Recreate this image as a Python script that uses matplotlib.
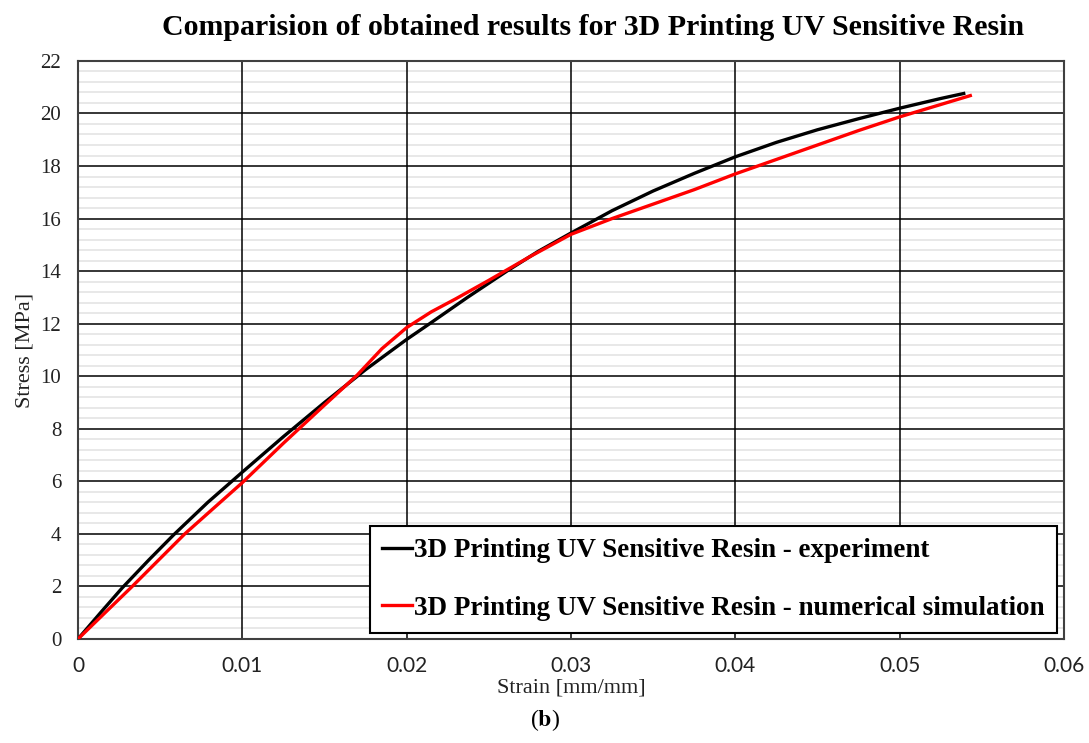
import matplotlib.pyplot as plt
import numpy as np
from matplotlib.ticker import MultipleLocator

plt.rcParams["font.family"] = ["Liberation Serif", "DejaVu Serif"]
plt.rcParams["mathtext.fontset"] = "stix"

# experiment curve
exp_strain = [0.0, 0.0014, 0.0027, 0.0043, 0.0058, 0.0079, 0.0100, 0.0125,
              0.0150, 0.0175, 0.0200, 0.0214, 0.0237, 0.0261, 0.0280, 0.0300,
              0.0325, 0.0350, 0.0375, 0.0400, 0.0425, 0.0450, 0.0475, 0.0500,
              0.0525, 0.0539]
exp_stress = [0.0, 1.02, 1.95, 3.0, 3.95, 5.2, 6.35, 7.7,
              9.0, 10.25, 11.4, 12.0, 13.0, 14.0, 14.75, 15.45,
              16.3, 17.05, 17.72, 18.35, 18.9, 19.38, 19.8, 20.2,
              20.57, 20.76]

# numerical simulation curve
sim_strain = [0.0, 0.0033, 0.0065, 0.0100, 0.0125, 0.0150, 0.0170, 0.0185,
              0.0200, 0.0215, 0.0230, 0.0250, 0.0275, 0.0300, 0.0325, 0.0350,
              0.0375, 0.0400, 0.0425, 0.0450, 0.0475, 0.0500, 0.0543]
sim_stress = [0.0, 2.0, 4.0, 5.95, 7.45, 8.9, 10.05, 11.05,
              11.85, 12.45, 12.95, 13.65, 14.55, 15.4, 16.0, 16.55,
              17.1, 17.7, 18.25, 18.8, 19.35, 19.87, 20.68]

fig = plt.figure(figsize=(10.89, 7.43), dpi=100)
ax = fig.add_axes([0.0716, 0.14, 0.9054, 0.778])

ax.plot(exp_strain, exp_stress, color="black", lw=2.4,
        label="3D Printing UV Sensitive Resin - experiment", zorder=3)
ax.plot(sim_strain, sim_stress, color="#ff0000", lw=2.4,
        label="3D Printing UV Sensitive Resin - numerical simulation", zorder=3)

ax.set_xlim(0, 0.06)
ax.set_ylim(0, 22)
ax.set_xticks(np.arange(0, 0.061, 0.01))
ax.set_xticklabels(["0", "0.01", "0.02", "0.03", "0.04", "0.05", "0.06"],
                   family="Lato")
ax.yaxis.set_major_locator(MultipleLocator(2))

# light minor lines every 0.4 under the black major grid
minor_y = [v for v in np.arange(0.4, 22, 0.4) if abs(v / 2 - round(v / 2)) > 1e-6]
ax.hlines(minor_y, 0, 0.06, colors="#e8e8e8", lw=1.4, zorder=0.5)
ax.grid(True, which="major", color="black", lw=1.1, zorder=1)
ax.set_axisbelow(True)
ax.tick_params(which="both", length=0, colors="#222222")
ax.tick_params(axis="x", pad=12, labelsize=15)
ax.tick_params(axis="y", pad=12, labelsize=15)
for s in ax.spines.values():
    s.set_color("#404040")
    s.set_linewidth(1.5)

ax.set_xlabel("Strain [mm/mm]", fontsize=16, labelpad=2, color="#222222")
ax.set_ylabel("Stress [MPa]", fontsize=16, labelpad=4, color="#222222")
fig.text(0.545, 0.963, "Comparision of obtained results for 3D Printing UV Sensitive Resin",
         ha="center", va="center", fontsize=21.5, fontweight="bold")
fig.text(0.5, 0.031, r"($\mathbf{b}$)", ha="center", va="center", fontsize=17)

leg = ax.legend(loc="lower right", bbox_to_anchor=(0.993, 0.0104),
                prop={"weight": "bold", "size": 19.5}, fancybox=False,
                edgecolor="black", framealpha=1, handlelength=1.1,
                handletextpad=0.1, labelspacing=1.2, borderpad=0.45,
                borderaxespad=0)
leg.get_frame().set_linewidth(1.5)

fig.savefig("out.png", dpi=100)
